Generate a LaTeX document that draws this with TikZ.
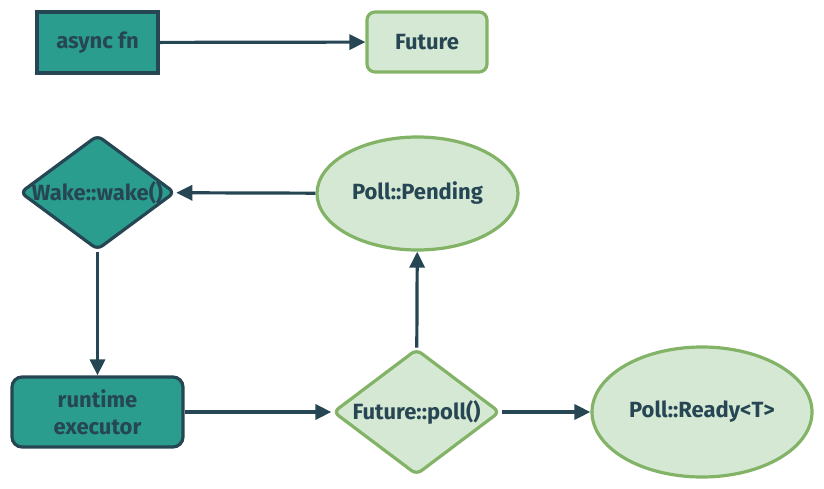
\documentclass[tikz,border=0pt]{standalone}
\usepackage{fontspec}
\setmainfont{Fira Sans}
\usetikzlibrary{shapes.geometric,arrows.meta}
\definecolor{teal}{HTML}{2A9D8F}
\definecolor{dark}{HTML}{264653}
\definecolor{lgreen}{HTML}{D5E8D4}
\definecolor{bgreen}{HTML}{82B366}
\tikzset{
  txt/.style={font=\fontsize{22}{27}\selectfont\bfseries, text=dark, align=center},
  tealbox/.style={txt, draw=dark, fill=teal, line width=3.2pt, inner sep=0pt},
  greenbox/.style={txt, draw=bgreen, fill=lgreen, line width=3.2pt, inner sep=0pt},
  dia/.style={diamond, inner sep=0pt, rounded corners=6pt},
  lbl/.style={txt},
  conn/.style={draw=dark, line width=3.2pt, -{Triangle[length=16pt,width=15pt]}},
}
\begin{document}
\begin{tikzpicture}[x=1pt,y=-1pt]
\useasboundingbox (0,0) rectangle (824,489);
\node[tealbox, minimum width=121pt, minimum height=61pt] (async) at (97.5,42.5) {async fn};
\node[greenbox, rounded corners=8pt, minimum width=120pt, minimum height=60pt] (future) at (427,42) {Future};
\node[tealbox, dia, minimum width=155pt, minimum height=115pt, label={[lbl]center:Wake::wake()}] (wake) at (97.5,192.5) {};
\node[greenbox, ellipse, minimum width=201pt, minimum height=113pt] (pending) at (417.5,193.5) {Poll::Pending};
\node[tealbox, rounded corners=10pt, minimum width=171pt, minimum height=70pt] (runtime) at (97.5,412) {runtime\\executor};
\node[greenbox, dia, minimum width=167pt, minimum height=126pt, label={[lbl]center:Future::poll()}] (poll) at (416.5,412) {};
\node[greenbox, ellipse, minimum width=220pt, minimum height=130pt] (ready) at (702,412) {Poll::Ready<T>};
\draw[conn] (async) -- (future);
\draw[conn] (pending) -- (wake);
\draw[conn] (wake) -- (runtime);
\draw[conn] (runtime) -- (poll);
\draw[conn] (poll) -- (pending);
\draw[conn] (poll) -- (ready);
\end{tikzpicture}
\end{document}
